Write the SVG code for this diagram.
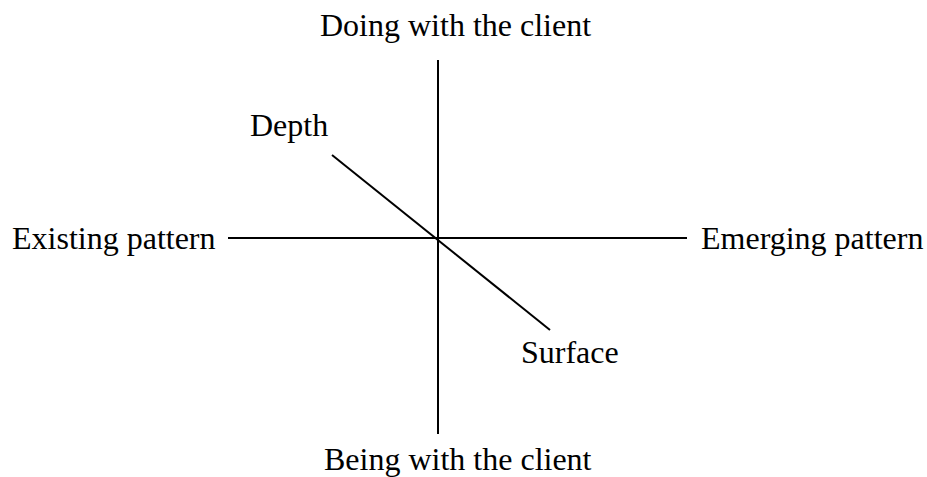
<svg xmlns="http://www.w3.org/2000/svg" width="927" height="477" viewBox="0 0 927 477">
<style>
text { font-family: "Liberation Serif", "Times New Roman", serif; font-size: 32px; fill: #000; }
.ln { stroke: #000; stroke-width: 2; fill: none; }
</style>
<rect width="927" height="477" fill="#fff"/>
<g id="connectors">
<line class="ln" x1="438" y1="60" x2="438" y2="434"/>
<line class="ln" x1="228" y1="238" x2="687" y2="238"/>
<line class="ln" x1="332" y1="155" x2="550" y2="330"/>
</g>
<g id="doing"><text x="320" y="36">Doing with the client</text></g>
<g id="being"><text x="324" y="470">Being with the client</text></g>
<g id="existing"><text x="12" y="249">Existing pattern</text></g>
<g id="emerging"><text x="701" y="249">Emerging pattern</text></g>
<g id="depth"><text x="250" y="136">Depth</text></g>
<g id="surface"><text x="521" y="363">Surface</text></g>
</svg>
